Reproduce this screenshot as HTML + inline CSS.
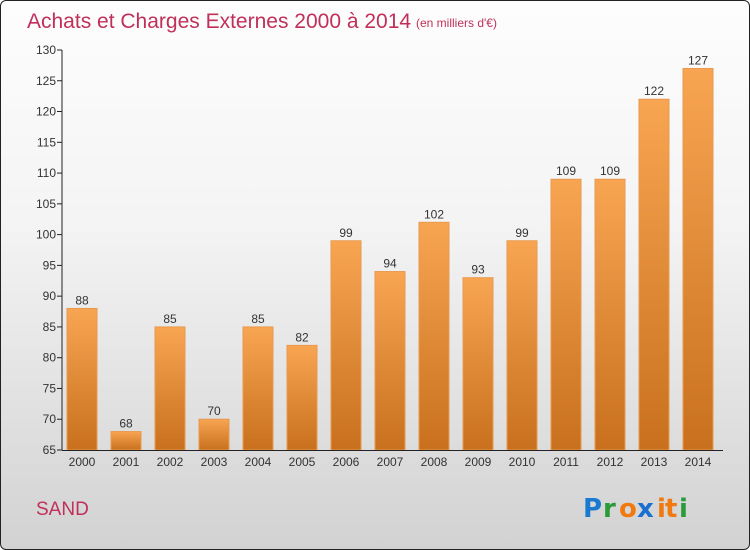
<!DOCTYPE html>
<html><head><meta charset="utf-8"><style>
body{margin:0;}
#wrap{position:relative;width:748px;height:548px;border:1px solid #222;border-radius:6px;overflow:hidden;background:linear-gradient(#fdfdfd,#f4f4f4 40%,#d2d2d2);font-family:"Liberation Sans",sans-serif;}
</style></head><body>
<div id="wrap">
<svg width="748" height="548" id="chart">
<defs><linearGradient id="bg" x1="0" y1="0" x2="0" y2="1"><stop offset="0" stop-color="#f8a552"/><stop offset="1" stop-color="#c8701e"/></linearGradient></defs>
<text x="26" y="27" font-size="21" fill="#c0305a">Achats et Charges Externes 2000 à 2014</text>
<text x="415" y="26" font-size="12" fill="#c0305a">(en milliers d'€)</text>
<text x="35" y="514" font-size="19" fill="#c0305a">SAND</text>
<g font-size="26" font-weight="bold" font-family="'DejaVu Sans',sans-serif">
<text x="582" y="516" fill="#1a7ad0">P</text><text x="602" y="516" fill="#2a9a3a">r</text><text x="618" y="516" fill="#f07a10">o</text><text x="636" y="516" fill="#1a6fd0">x</text><text x="656" y="516" fill="#f07a10">i</text><text x="664" y="516" fill="#f07a10">t</text><text x="678" y="516" fill="#2a9a3a">i</text>
</g>
<g id="plot"></g>
</svg>
</div>
<script>
const years=["2000","2001","2002","2003","2004","2005","2006","2007","2008","2009","2010","2011","2012","2013","2014"];
const values=[88,68,85,70,85,82,99,94,102,93,99,109,109,122,127];
const yTicks=[65,70,75,80,85,90,95,100,105,110,115,120,125,130];
const NS="http://www.w3.org/2000/svg";
const g=document.getElementById('plot');
const y0=449,y1=49,vmin=65,vmax=130;
function y(v){return y0-(v-vmin)/(vmax-vmin)*(y0-y1);}
function x(i){return 81+i*44;}
function el(t,a){const e=document.createElementNS(NS,t);for(const k in a)e.setAttribute(k,a[k]);g.appendChild(e);return e;}
years.forEach((yr,i)=>{
 const r=el('rect',{x:x(i)-15,y:y(values[i]),width:30,height:y0-y(values[i]),fill:'url(#bg)',stroke:'#e89a50','stroke-width':1});
 
 
 const t=el('text',{x:x(i),y:y(values[i])-4,'font-size':12,'text-anchor':'middle',fill:'#333'});t.textContent=values[i];
 
 
 const xl=el('text',{x:x(i),y:465,'font-size':12,'text-anchor':'middle',fill:'#333'});xl.textContent=yr;
 
 
});
yTicks.forEach(v=>{
 el('line',{x1:56,x2:61,y1:y(v),y2:y(v),stroke:'#222'});
 const t=el('text',{x:55,y:y(v)+4,'font-size':12,'text-anchor':'end',fill:'#333'});t.textContent=v;
 
 
});
const ya=el('line',{x1:61,x2:61,y1:y1,y2:y0,stroke:'#222'});


const xa=el('line',{x1:61,x2:722,y1:y0+0.5,y2:y0+0.5,stroke:'#222'});


</script>
</body></html>
